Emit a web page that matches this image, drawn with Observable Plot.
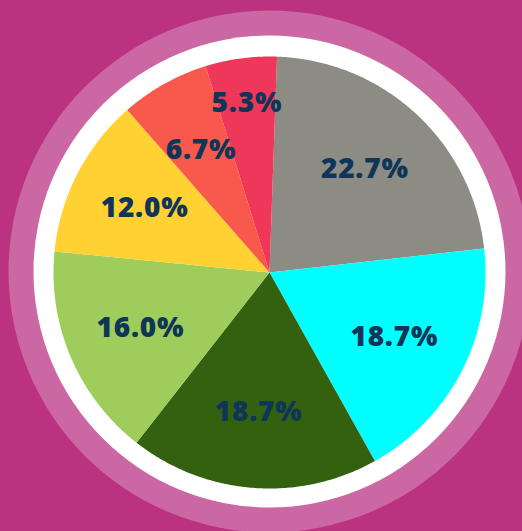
<!DOCTYPE html>
<html><head><meta charset="utf-8">
<script src="https://cdn.jsdelivr.net/npm/d3@7"></script>
<script src="https://cdn.jsdelivr.net/npm/@observablehq/plot@0.6"></script>
<style>html,body{margin:0;padding:0;background:#bb3280;overflow:hidden}</style>
</head><body><div id="chart"></div>
<script>
// Data (clockwise from 12 o'clock)
const categories = ["A", "B", "C", "D", "E", "F", "G"];
const counts = [17, 14, 14, 12, 9, 5, 4];
const labels = ["22.7%", "18.7%", "18.7%", "16.0%", "12.0%", "6.7%", "5.3%"];
const colors = ["#8c8c84", "#00ffff", "#33610f", "#9ecd5b", "#ffd133", "#f9584d", "#ef375a"];

const W = 522, H = 531, cx = 269, cy = 272, R = 216;
const startDeg = 2;
const a0 = startDeg * Math.PI / 180;

const rows = categories.map((c, i) => ({cat: c, value: counts[i], label: labels[i]}));
const total = d3.sum(counts);
const arcs = d3.pie().sort(null).value(d => d.value).startAngle(a0).endAngle(a0 + 2 * Math.PI)(rows);

const poly = [];
arcs.forEach(a => {
  poly.push({cat: a.data.cat, x: 0, y: 0});
  const n = Math.max(2, Math.ceil((a.endAngle - a.startAngle) / 0.01));
  for (let k = 0; k <= n; k++) {
    const t = a.startAngle + (a.endAngle - a.startAngle) * k / n;
    poly.push({cat: a.data.cat, x: Math.sin(t), y: Math.cos(t)});
  }
});

const labelData = arcs.map(a => {
  const mid = (a.startAngle + a.endAngle) / 2;
  const r = a.data.value / total < 0.06 ? 0.79 : 0.65;
  return {x: r * Math.sin(mid), y: r * Math.cos(mid), text: a.data.label};
});

const chart = Plot.plot({
  width: W, height: H, margin: 0,
  x: {domain: [-cx / R, (W - cx) / R], axis: null},
  y: {domain: [-(H - cy) / R, cy / R], axis: null},
  color: {domain: categories, range: colors},
  style: "background:#bb3280;letter-spacing:0.8px;",
  marks: [
    Plot.dot([{x: 0, y: 0.005}], {x: "x", y: "y", r: 261, fill: "#cb67a3", stroke: "none"}),
    Plot.dot([{x: 0, y: 0.005}], {x: "x", y: "y", r: 236, fill: "white", stroke: "none"}),
    Plot.line(poly, {x: "x", y: "y", z: "cat", fill: "cat", stroke: "none", curve: "linear-closed"}),
    Plot.text(labelData, {x: "x", y: "y", text: "text", fill: "#0f3557", fontSize: 28, fontWeight: 800, fontFamily: "Open Sans"})
  ]
});
document.getElementById("chart").appendChild(chart);
</script>
</body></html>
